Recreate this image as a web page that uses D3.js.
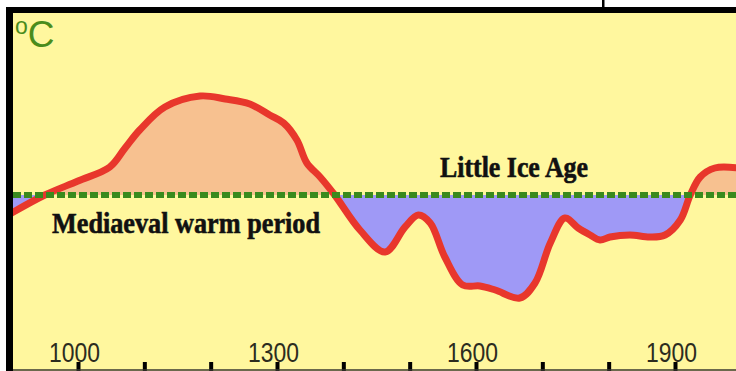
<!DOCTYPE html>
<html>
<head>
<meta charset="utf-8">
<script src="https://cdn.jsdelivr.net/npm/d3@7"></script>
<style>
  html, body { margin: 0; padding: 0; background: #ffffff; }
  svg { display: block; }
</style>
</head>
<body>
<svg id="chart" width="736" height="371"></svg>
<script>
// ---- data ----
const years = [900, 950, 1000, 1048, 1071, 1093, 1131, 1184, 1222, 1259, 1289, 1310, 1330, 1345, 1365, 1387,
  1425, 1463, 1493, 1513, 1531, 1553, 1580, 1606, 1629, 1666, 1689, 1712, 1734, 1754, 1772,
  1787, 1802, 1832, 1862, 1885, 1908, 1923, 1938, 1960, 1995];
const anomaly = [-0.18, 0.0, 0.14, 0.28, 0.47, 0.65, 0.88, 0.99, 0.96, 0.91, 0.80, 0.72, 0.55, 0.32, 0.18, 0.0,
  -0.35, -0.57, -0.32, -0.20, -0.28, -0.62, -0.90, -0.91, -0.95, -1.03, -0.88, -0.48, -0.23, -0.33, -0.40,
  -0.45, -0.42, -0.40, -0.42, -0.40, -0.25, 0.0, 0.18, 0.27, 0.27];
const tickYears = [1000, 1100, 1200, 1300, 1400, 1500, 1600, 1700, 1800, 1900];
const tickLabels = ["1000", "", "", "1300", "", "", "1600", "", "", "1900"];
const unitLabel = "C";
const warmLabel = "Mediaeval warm period";
const coldLabel = "Little Ice Age";
const series = years.map((y, i) => ({ year: y, v: anomaly[i] }));

// ---- layout ----
const W = 736, H = 371;
const plot = { left: 13, top: 13, right: 736, bottom: 371 };
const svg = d3.select("#chart");

const x = d3.scaleLinear().domain([1000, 1900]).range([78, 675]);
const y = d3.scaleLinear().domain([-1, 1]).range([295, 95]);

// background frame
svg.append("rect").attr("x", 0).attr("y", 0).attr("width", W).attr("height", H).attr("fill", "#ffffff");
svg.append("rect").attr("x", plot.left).attr("y", plot.top)
  .attr("width", plot.right - plot.left).attr("height", plot.bottom - plot.top)
  .attr("fill", "#fff79e");

const defs = svg.append("defs");
defs.append("clipPath").attr("id", "plotClip").append("rect")
  .attr("x", plot.left).attr("y", plot.top).attr("width", plot.right - plot.left).attr("height", plot.bottom - plot.top);
defs.append("clipPath").attr("id", "aboveClip").append("rect")
  .attr("x", plot.left).attr("y", plot.top).attr("width", plot.right - plot.left).attr("height", y(0) - plot.top);
defs.append("clipPath").attr("id", "belowClip").append("rect")
  .attr("x", plot.left).attr("y", y(0)).attr("width", plot.right - plot.left).attr("height", plot.bottom - y(0));

const curve = d3.curveCatmullRom.alpha(0.5);
const area = d3.area().x(d => x(d.year)).y0(y(0)).y1(d => y(d.v)).curve(curve);
const line = d3.line().x(d => x(d.year)).y(d => y(d.v)).curve(curve);

const g = svg.append("g").attr("clip-path", "url(#plotClip)");
g.append("path").datum(series).attr("d", area).attr("fill", "#f7c190").attr("clip-path", "url(#aboveClip)");
g.append("path").datum(series).attr("d", area).attr("fill", "#9f99f6").attr("clip-path", "url(#belowClip)");
g.append("path").datum(series).attr("d", line).attr("fill", "none")
  .attr("stroke", "#e8372c").attr("stroke-width", 7).attr("stroke-linejoin", "round").attr("stroke-linecap", "round");

// reference (dashed green) line
g.append("line").attr("x1", plot.left).attr("x2", plot.right).attr("y1", y(0)).attr("y2", y(0))
  .attr("stroke", "#3a8a1d").attr("stroke-width", 6).attr("stroke-dasharray", "8,3");

// axis (ticks up from bottom, labels above)
const axis = d3.axisTop(x).tickValues(tickYears).tickFormat((d, i) => tickLabels[i])
  .tickSize(9).tickPadding(0).tickSizeOuter(0);
const ax = svg.append("g").attr("transform", `translate(0,${H})`).call(axis);
ax.select(".domain").remove();
ax.selectAll(".tick line").attr("stroke", "#000").attr("stroke-width", 4);
ax.selectAll(".tick text")
  .attr("font-family", "Liberation Sans, Arial, sans-serif")
  .attr("font-size", 27).attr("fill", "#2c2c1e")
  .attr("dx", -4).attr("y", -9)
  .each(function(d, i) { if (tickLabels[i]) d3.select(this).attr("textLength", 51).attr("lengthAdjust", "spacingAndGlyphs"); });
svg.append("line").attr("x1", plot.left).attr("x2", plot.right).attr("y1", H - 1).attr("y2", H - 1)
  .attr("stroke", "#3a3a30").attr("stroke-width", 1.5);

// black frame lines
svg.append("rect").attr("x", 6).attr("y", 7).attr("width", 7).attr("height", H - 7).attr("fill", "#000");
svg.append("rect").attr("x", 6).attr("y", 7).attr("width", W - 6).attr("height", 6).attr("fill", "#000");
svg.append("rect").attr("x", 602).attr("y", 0).attr("width", 2.5).attr("height", 7).attr("fill", "#000");

// unit label
const u = svg.append("text").attr("x", 15).attr("y", 47)
  .attr("font-family", "Liberation Sans, Arial, sans-serif").attr("fill", "#4a8c1c");
u.append("tspan").attr("font-size", 23).attr("dy", -13).text("o");
u.append("tspan").attr("font-size", 37).attr("dy", 13).text(unitLabel);

// annotations
svg.append("text").attr("x", 52).attr("y", 233)
  .attr("font-family", "Liberation Serif, Times New Roman, serif").attr("font-weight", "bold")
  .attr("font-size", 30).attr("fill", "#111").attr("stroke", "#111").attr("stroke-width", 0.6)
  .attr("textLength", 268).attr("lengthAdjust", "spacingAndGlyphs").text(warmLabel);
svg.append("text").attr("x", 440).attr("y", 177)
  .attr("font-family", "Liberation Serif, Times New Roman, serif").attr("font-weight", "bold")
  .attr("font-size", 30).attr("fill", "#111").attr("stroke", "#111").attr("stroke-width", 0.6)
  .attr("textLength", 148).attr("lengthAdjust", "spacingAndGlyphs").text(coldLabel);
</script>
</body>
</html>
